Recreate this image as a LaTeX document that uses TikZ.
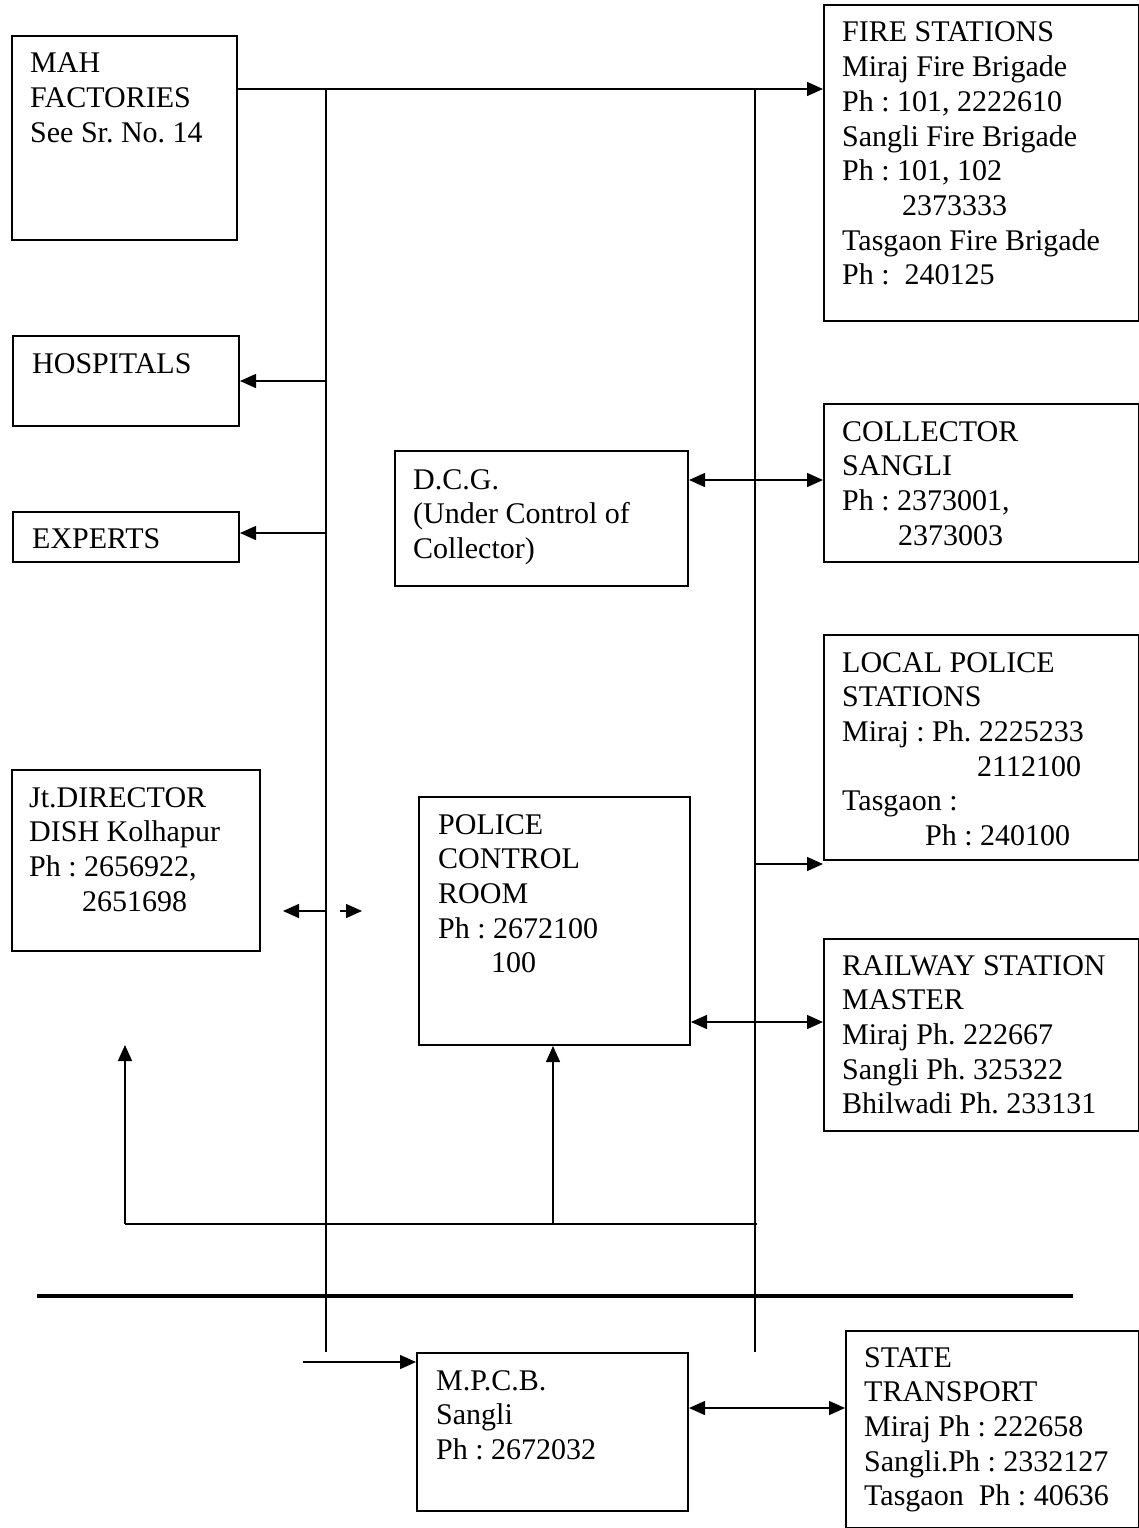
\documentclass[tikz,border=0pt]{standalone}
\usepackage{fontspec}
\setmainfont{Liberation Serif}
\usetikzlibrary{arrows.meta}
\frenchspacing
\newcommand\boxtext[1]{\begin{tabular}[t]{@{}l@{}}#1\end{tabular}}
\begin{document}
\begin{tikzpicture}[x=1pt,y=-1pt,
  box/.style={draw,line width=2pt,rectangle,inner sep=0pt,anchor=north west},
  txt/.style={anchor=base west,inner sep=0pt,font=\fontsize{30}{34.7}\selectfont\frenchspacing},
  conn/.style={line width=1.5pt},
  arr/.style={line width=1.5pt,-{Triangle[length=16pt,width=14pt]}},
  biarr/.style={line width=1.5pt,{Triangle[length=16pt,width=14pt]}-{Triangle[length=16pt,width=14pt]}},
  thick rule/.style={line width=4.5pt}]
\useasboundingbox (0,0) rectangle (1139,1528);
% boxes
\node[box,minimum width=225pt,minimum height=204pt] (mah) at (11,35) {};
\node[box,minimum width=315pt,minimum height=316pt] (fire) at (823,4) {};
\node[box,minimum width=226pt,minimum height=90pt] (hosp) at (12,335) {};
\node[box,minimum width=226pt,minimum height=50pt] (exp) at (12,511) {};
\node[box,minimum width=293pt,minimum height=135pt] (dcg) at (394,450) {};
\node[box,minimum width=315pt,minimum height=158pt] (coll) at (823,403) {};
\node[box,minimum width=248pt,minimum height=181pt] (jt) at (11,769) {};
\node[box,minimum width=271pt,minimum height=248pt] (police) at (418,796) {};
\node[box,minimum width=315pt,minimum height=225pt] (local) at (823,634) {};
\node[box,minimum width=315pt,minimum height=192pt] (rail) at (823,938) {};
\node[box,minimum width=271pt,minimum height=158pt] (mpcb) at (416,1352) {};
\node[box,minimum width=293pt,minimum height=197pt] (state) at (845,1330) {};
% texts
\node[txt] (tmah) at (30,73) {\boxtext{MAH\\FACTORIES\\See Sr. No. 14}};
\node[txt] (tfire) at (842,42) {\boxtext{FIRE STATIONS\\Miraj Fire Brigade\\Ph : 101, 2222610\\Sangli Fire Brigade\\Ph : 101, 102\\\hspace*{60pt}2373333\\Tasgaon Fire Brigade\\Ph : \ 240125}};
\node[txt] (thosp) at (32,373) {HOSPITALS};
\node[txt] (texp) at (32,548) {EXPERTS};
\node[txt] (tdcg) at (413,489) {\boxtext{D.C.G.\\(Under Control of\\Collector)}};
\node[txt] (tcoll) at (842,441) {\boxtext{COLLECTOR\\SANGLI\\Ph : 2373001,\\\hspace*{56pt}2373003}};
\node[txt] (tjt) at (29,807) {\boxtext{Jt.DIRECTOR\\DISH Kolhapur\\Ph : 2656922,\\\hspace*{53pt}2651698}};
\node[txt] (tpolice) at (438,834) {\boxtext{POLICE\\CONTROL\\ROOM\\Ph : 2672100\\\hspace*{53pt}100}};
\node[txt] (tlocal) at (842,672) {\boxtext{LOCAL POLICE\\STATIONS\\Miraj : Ph. 2225233\\\hspace*{135pt}2112100\\Tasgaon :\\\hspace*{83pt}Ph : 240100}};
\node[txt] (trail) at (842,975) {\boxtext{RAILWAY STATION\\MASTER\\Miraj Ph. 222667\\Sangli Ph. 325322\\Bhilwadi Ph. 233131}};
\node[txt] (tmpcb) at (436,1390) {\boxtext{M.P.C.B.\\Sangli\\Ph : 2672032}};
\node[txt] (tstate) at (864,1367) {\boxtext{STATE\\TRANSPORT\\Miraj Ph : 222658\\Sangli.Ph : 2332127\\Tasgaon \ Ph : 40636}};
% coordinates
\coordinate (v1top) at (326,89);
\coordinate (v1bot) at (326,1352);
\coordinate (v2top) at (755,89);
\coordinate (v2bot) at (755,1352);
\coordinate (jtL) at (327,911);
\coordinate (jtLt) at (283,911);
\coordinate (jtR) at (340,911);
\coordinate (jtRt) at (362,911);
\coordinate (hb1) at (125,1224);
\coordinate (hb2) at (757,1224);
\coordinate (hbp) at (553,1224);
\coordinate (upL) at (125,1045);
\coordinate (ruleL) at (37,1296);
\coordinate (ruleR) at (1073,1296);
\coordinate (mpin) at (303,1362);
% connectors
\draw[arr] (mah.east |- v1top) -- (fire.west |- v1top);
\draw[conn] (v1top) -- (v1bot);
\draw[conn] (v2top) -- (v2bot);
\draw[arr] (326,381) -- (hosp.east |- 0,381);
\draw[arr] (326,533) -- (exp.east |- 0,533);
\draw[biarr] (dcg.east |- 0,480) -- (coll.west |- 0,480);
\draw[arr] (755,864) -- (local.west |- 0,864);
\draw[biarr] (police.east |- 0,1022) -- (rail.west |- 0,1022);
\draw[arr] (jtL) -- (jtLt);
\draw[arr] (jtR) -- (jtRt);
\draw[conn] (hb1) -- (hb2);
\draw[arr] (hb1) -- (upL);
\draw[arr] (hbp) -- (police.south -| hbp);
\draw[thick rule] (ruleL) -- (ruleR);
\draw[arr] (mpin) -- (mpcb.west |- mpin);
\draw[biarr] (mpcb.east |- 0,1408) -- (state.west |- 0,1408);
\end{tikzpicture}
\end{document}
